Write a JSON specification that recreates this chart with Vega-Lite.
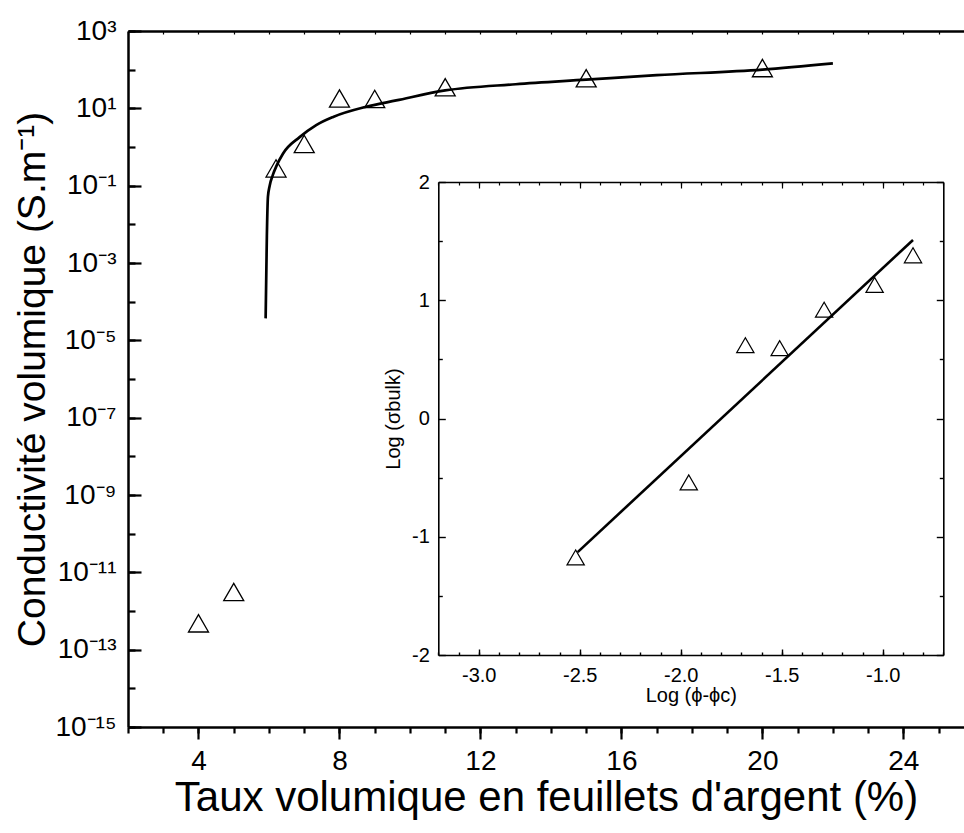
{
  "$schema": "https://vega.github.io/schema/vega-lite/v6.json",
  "width": 836,
  "height": 696,
  "autosize": {"type": "none"},
  "padding": {"left": 128, "top": 31, "right": 0, "bottom": 106},
  "background": "white",
  "config": {
    "view": {"stroke": null},
    "axis": {
      "grid": false,
      "domainColor": "black",
      "tickColor": "black",
      "labelColor": "black",
      "titleColor": "black",
      "labelFont": "Liberation Sans",
      "titleFont": "Liberation Sans",
      "titleFontWeight": "normal",
      "labelFlush": false,
      "labelOverlap": false
    }
  },
  "datasets": {
    "main": [
      {"x": 4, "y": 4.8e-13},
      {"x": 5, "y": 3.1e-12},
      {"x": 6.2, "y": 0.28},
      {"x": 7, "y": 1.2},
      {"x": 8, "y": 18},
      {"x": 9, "y": 17.5},
      {"x": 11, "y": 35},
      {"x": 15, "y": 60},
      {"x": 20, "y": 110}
    ],
    "curve": [
      {"x": 5.905, "y": 3.7e-5},
      {"x": 5.94, "y": 0.005},
      {"x": 5.97, "y": 0.051},
      {"x": 6.02, "y": 0.1},
      {"x": 6.11, "y": 0.19},
      {"x": 6.21, "y": 0.32},
      {"x": 6.4, "y": 0.68},
      {"x": 6.87, "y": 1.8},
      {"x": 7.34, "y": 3.7},
      {"x": 7.82, "y": 6.0},
      {"x": 8.76, "y": 11},
      {"x": 9.61, "y": 16},
      {"x": 11, "y": 29},
      {"x": 13, "y": 42},
      {"x": 15, "y": 55},
      {"x": 17, "y": 72},
      {"x": 20, "y": 100},
      {"x": 22, "y": 145}
    ],
    "inset": [
      {"lx": -2.52, "ls": -1.175},
      {"lx": -1.96, "ls": -0.54},
      {"lx": -1.68, "ls": 0.62},
      {"lx": -1.51, "ls": 0.595},
      {"lx": -1.29, "ls": 0.92},
      {"lx": -1.04, "ls": 1.13},
      {"lx": -0.85, "ls": 1.38}
    ],
    "fit": [
      {"lx": -2.51, "ls": -1.13},
      {"lx": -0.85, "ls": 1.51}
    ]
  },
  "layer": [
    {
      "data": {"name": "main"},
      "mark": {"type": "point", "shape": "triangle-up", "size": 400, "filled": false, "color": "black", "strokeWidth": 1.3, "opacity": 1},
      "encoding": {
        "x": {
          "field": "x", "type": "quantitative",
          "scale": {"domain": [2, 25.72], "nice": false, "zero": false},
          "axis": {
            "orient": "bottom", "values": [4, 8, 12, 16, 20, 24],
            "tickSize": 12, "tickWidth": 2.2, "domainWidth": 2.5,
            "labelFontSize": 28, "labelPadding": 8,
            "title": "Taux volumique en feuillets d'argent (%)",
            "titleFontSize": 42, "titlePadding": 2
          }
        },
        "y": {
          "field": "y", "type": "quantitative",
          "scale": {"type": "log", "domain": [1e-15, 1000], "nice": false},
          "axis": {
            "orient": "left",
            "values": [1e-15, 1e-13, 1e-11, 1e-9, 1e-7, 1e-5, 0.001, 0.1, 10, 1000],
            "ticks": false, "tickSize": 0, "domainWidth": 2.5,
            "labelExpr": "['10⁻¹⁵','10⁻¹³','10⁻¹¹','10⁻⁹','10⁻⁷','10⁻⁵','10⁻³','10⁻¹','10¹','10³'][round((log(datum.value)/LN10 + 15)/2)]",
            "labelFontSize": 28, "labelPadding": 12,
            "title": "Conductivité volumique (S.m⁻¹)",
            "titleFontSize": 39, "titlePadding": 2
          }
        }
      }
    },
    {
      "data": {"name": "curve"},
      "mark": {"type": "line", "color": "black", "strokeWidth": 2.7, "interpolate": "monotone"},
      "encoding": {
        "x": {
          "field": "x", "type": "quantitative",
          "scale": {"domain": [2, 25.72], "nice": false, "zero": false},
          "axis": {
            "orient": "top",
            "values": [2,3,4,5,6,7,8,9,10,11,12,13,14,15,16,17,18,19,20,21,22,23,24,25],
            "tickSize": -3, "tickWidth": 1.2, "domainWidth": 2.5,
            "labels": false, "title": null
          }
        },
        "y": {
          "field": "y", "type": "quantitative",
          "scale": {"type": "log", "domain": [1e-15, 1000], "nice": false},
          "axis": {
            "orient": "left",
            "values": [1e-15,1e-14,1e-13,1e-12,1e-11,1e-10,1e-9,1e-8,1e-7,1e-6,1e-5,1e-4,0.001,0.01,0.1,1,10,100,1000],
            "tickSize": -7, "tickWidth": 2.2, "domain": false,
            "labels": false, "title": null
          }
        }
      }
    },
    {
      "data": {"name": "main"},
      "mark": {"type": "point", "opacity": 0},
      "encoding": {
        "x": {
          "field": "x", "type": "quantitative",
          "scale": {"domain": [2, 25.72], "nice": false, "zero": false},
          "axis": {
            "orient": "bottom",
            "values": [2,3,4,5,6,7,8,9,10,11,12,13,14,15,16,17,18,19,20,21,22,23,24,25],
            "tickSize": 6, "tickWidth": 2.2, "domain": false,
            "labels": false, "title": null
          }
        },
        "y": {
          "field": "y", "type": "quantitative",
          "scale": {"type": "log", "domain": [1e-15, 1000], "nice": false},
          "axis": {
            "orient": "left",
            "values": [1e-15, 1e-13, 1e-11, 1e-9, 1e-7, 1e-5, 0.001, 0.1, 10, 1000],
            "tickSize": -13, "tickWidth": 2.2, "domain": false,
            "labels": false, "title": null
          }
        }
      }
    },
    {
      "data": {"name": "inset"},
      "mark": {"type": "point", "shape": "triangle-up", "size": 300, "filled": false, "color": "black", "strokeWidth": 1.2, "opacity": 1},
      "encoding": {
        "x": {
          "field": "lx", "type": "quantitative",
          "scale": {"domain": [-3.2, -0.7], "range": [310.3, 815.3], "nice": false, "zero": false},
          "axis": {
            "orient": "bottom", "offset": -72,
            "values": [-3, -2.5, -2, -1.5, -1],
            "ticks": false, "tickSize": 0, "domainWidth": 1.6,
            "labelExpr": "replace(format(datum.value, '.1f'), '−', '-')",
            "labelFontSize": 20, "labelPadding": 10,
            "title": "Log (ϕ-ϕc)", "titleFontSize": 20, "titlePadding": 0
          }
        },
        "y": {
          "field": "ls", "type": "quantitative",
          "scale": {"domain": [-2, 2], "range": [624, 151], "nice": false, "zero": false},
          "axis": {
            "orient": "left", "offset": -310.3,
            "values": [-2, -1, 0, 1, 2],
            "ticks": false, "tickSize": 0, "domainWidth": 1.6,
            "labelExpr": "replace(format(datum.value, 'd'), '−', '-')",
            "labelFontSize": 20, "labelPadding": 9,
            "title": "Log (σbulk)", "titleFontSize": 20, "titlePadding": 8
          }
        }
      }
    },
    {
      "data": {"name": "fit"},
      "mark": {"type": "line", "color": "black", "strokeWidth": 2.6},
      "encoding": {
        "x": {
          "field": "lx", "type": "quantitative",
          "scale": {"domain": [-3.2, -0.7], "range": [310.3, 815.3], "nice": false, "zero": false},
          "axis": {
            "orient": "bottom", "offset": -72,
            "values": [-3, -2.5, -2, -1.5, -1],
            "tickSize": -6, "tickWidth": 1.4, "domain": false,
            "labels": false, "title": null
          }
        },
        "y": {
          "field": "ls", "type": "quantitative",
          "scale": {"domain": [-2, 2], "range": [624, 151], "nice": false, "zero": false},
          "axis": {
            "orient": "left", "offset": -310.3,
            "values": [-2, -1, 0, 1, 2],
            "tickSize": -7, "tickWidth": 1.4, "domain": false,
            "labels": false, "title": null
          }
        }
      }
    },
    {
      "data": {"name": "inset"},
      "mark": {"type": "point", "opacity": 0},
      "encoding": {
        "x": {
          "field": "lx", "type": "quantitative",
          "scale": {"domain": [-3.2, -0.7], "range": [310.3, 815.3], "nice": false, "zero": false},
          "axis": {
            "orient": "bottom", "offset": -72,
            "values": [-3.2,-3.1,-3.0,-2.9,-2.8,-2.7,-2.6,-2.5,-2.4,-2.3,-2.2,-2.1,-2.0,-1.9,-1.8,-1.7,-1.6,-1.5,-1.4,-1.3,-1.2,-1.1,-1.0,-0.9,-0.8,-0.7],
            "tickSize": -3, "tickWidth": 1.4, "domain": false,
            "labels": false, "title": null
          }
        },
        "y": {
          "field": "ls", "type": "quantitative",
          "scale": {"domain": [-2, 2], "range": [624, 151], "nice": false, "zero": false},
          "axis": {
            "orient": "left", "offset": -310.3,
            "values": [-1.5, -0.5, 0.5, 1.5],
            "tickSize": -4, "tickWidth": 1.4, "domain": false,
            "labels": false, "title": null
          }
        }
      }
    },
    {
      "data": {"name": "inset"},
      "mark": {"type": "point", "opacity": 0},
      "encoding": {
        "x": {
          "field": "lx", "type": "quantitative",
          "scale": {"domain": [-3.2, -0.7], "range": [310.3, 815.3], "nice": false, "zero": false},
          "axis": {
            "orient": "top", "offset": -151,
            "values": [-3.2,-3.1,-3.0,-2.9,-2.8,-2.7,-2.6,-2.5,-2.4,-2.3,-2.2,-2.1,-2.0,-1.9,-1.8,-1.7,-1.6,-1.5,-1.4,-1.3,-1.2,-1.1,-1.0,-0.9,-0.8,-0.7],
            "tickSize": -3, "tickWidth": 1.2, "domainWidth": 1.6,
            "labels": false, "title": null
          }
        },
        "y": {
          "field": "ls", "type": "quantitative",
          "scale": {"domain": [-2, 2], "range": [624, 151], "nice": false, "zero": false},
          "axis": {
            "orient": "right", "offset": -20.7,
            "values": [-2, -1, 0, 1, 2],
            "tickSize": -7, "tickWidth": 1.4, "domainWidth": 1.6,
            "labels": false, "title": null
          }
        }
      }
    },
    {
      "data": {"name": "inset"},
      "mark": {"type": "point", "opacity": 0},
      "encoding": {
        "x": {
          "field": "lx", "type": "quantitative",
          "scale": {"domain": [-3.2, -0.7], "range": [310.3, 815.3], "nice": false, "zero": false},
          "axis": {
            "orient": "top", "offset": -151,
            "values": [-3, -2.5, -2, -1.5, -1],
            "tickSize": -6, "tickWidth": 1.2, "domain": false,
            "labels": false, "title": null
          }
        },
        "y": {
          "field": "ls", "type": "quantitative",
          "scale": {"domain": [-2, 2], "range": [624, 151], "nice": false, "zero": false},
          "axis": {
            "orient": "right", "offset": -20.7,
            "values": [-1.5, -0.5, 0.5, 1.5],
            "tickSize": -4, "tickWidth": 1.4, "domain": false,
            "labels": false, "title": null
          }
        }
      }
    }
  ],
  "resolve": {
    "scale": {"x": "independent", "y": "independent"},
    "axis": {"x": "independent", "y": "independent"}
  }
}
